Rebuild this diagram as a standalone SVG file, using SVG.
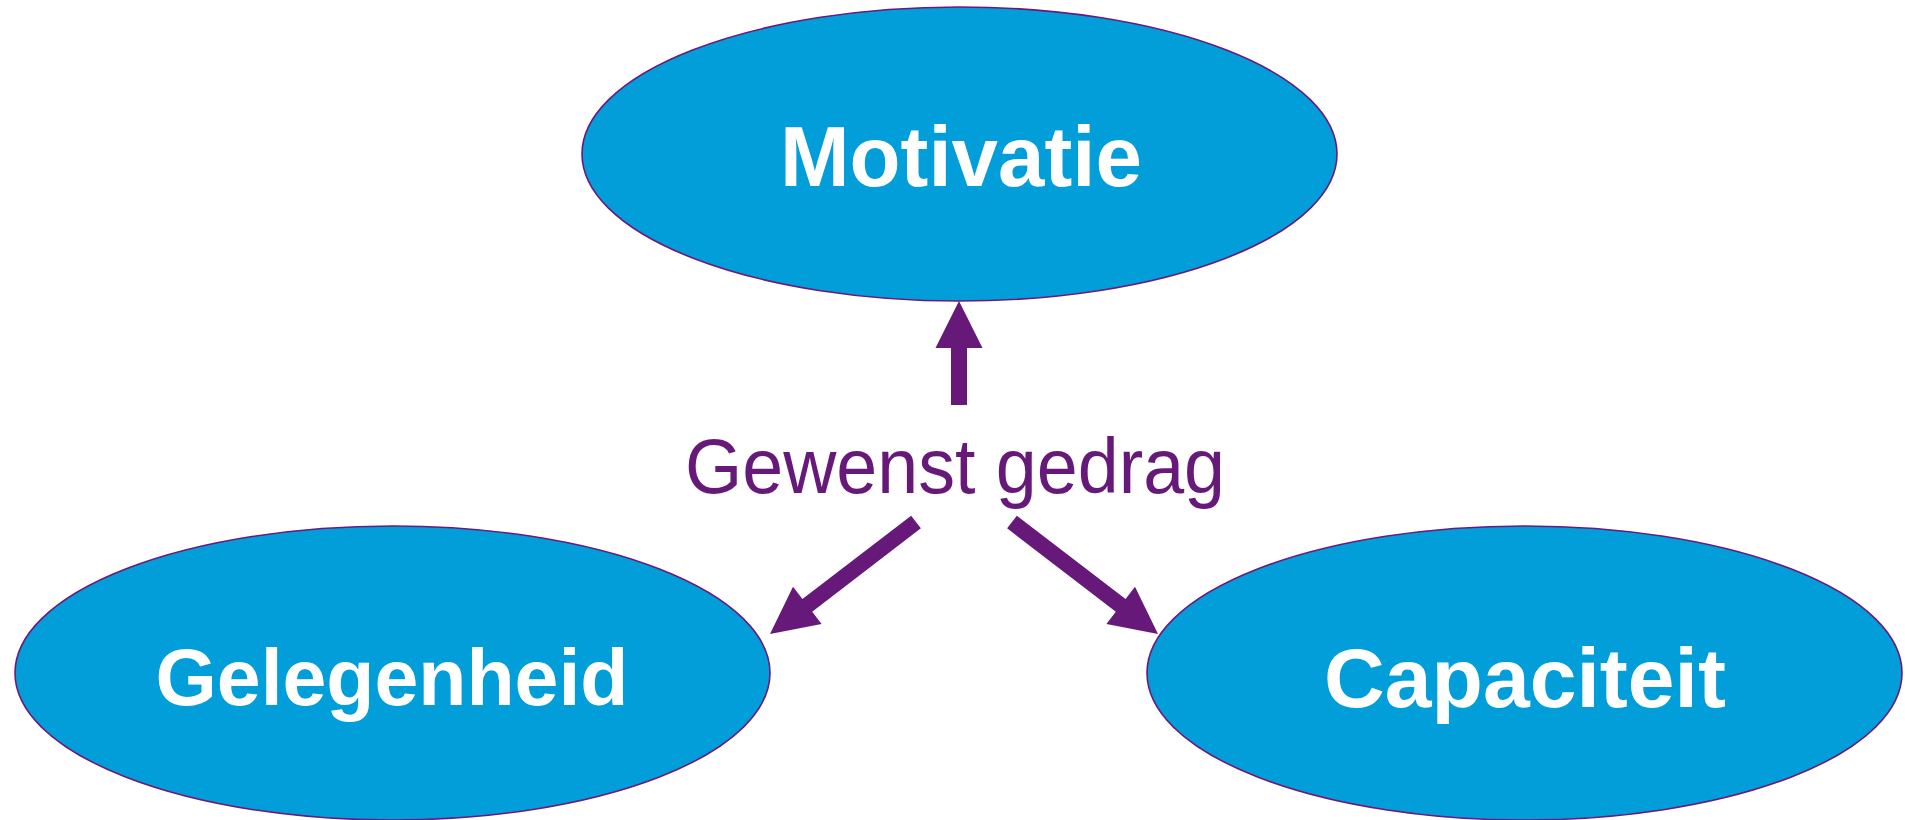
<svg xmlns="http://www.w3.org/2000/svg" width="1905" height="820" viewBox="0 0 1905 820">
<defs>
<style>
.node ellipse{fill:#029ED9;stroke:#6A1A7C;stroke-width:1.6}
.lbl{font-family:"Liberation Sans",Arial,sans-serif;font-weight:bold;fill:#FFFFFF;text-anchor:middle}
.mid{font-family:"Liberation Sans",Arial,sans-serif;fill:#67197A;text-anchor:middle}
.arr{fill:#67197A}
</style>
</defs>
<rect width="1905" height="820" fill="#FFFFFF"/>
<g id="motivatie" class="node">
<ellipse cx="959.5" cy="154" rx="377.5" ry="147"/>
<text class="lbl" x="961" y="186" font-size="85" textLength="362" lengthAdjust="spacingAndGlyphs">Motivatie</text>
</g>
<g id="gelegenheid" class="node">
<ellipse cx="392.5" cy="673" rx="377.5" ry="147"/>
<text class="lbl" x="392" y="705" font-size="80" textLength="473" lengthAdjust="spacingAndGlyphs">Gelegenheid</text>
</g>
<g id="capaciteit" class="node">
<ellipse cx="1524.5" cy="673" rx="377.5" ry="147"/>
<text class="lbl" x="1525" y="707" font-size="84" textLength="402" lengthAdjust="spacingAndGlyphs">Capaciteit</text>
</g>
<g id="gewenst-gedrag">
<text class="mid" x="955" y="493" font-size="77" textLength="540" lengthAdjust="spacingAndGlyphs">Gewenst gedrag</text>
</g>
<g id="connectors">
<polygon class="arr" transform="translate(959,405) rotate(-90)" points="0,-8 57,-8 57,-23.5 104,0 57,23.5 57,8 0,8"/>
<polygon class="arr" transform="translate(916,522) rotate(142.5)" points="0,-8 137,-8 137,-23.5 184,0 137,23.5 137,8 0,8"/>
<polygon class="arr" transform="translate(1012,522) rotate(37.5)" points="0,-8 137,-8 137,-23.5 184,0 137,23.5 137,8 0,8"/>
</g>
</svg>
